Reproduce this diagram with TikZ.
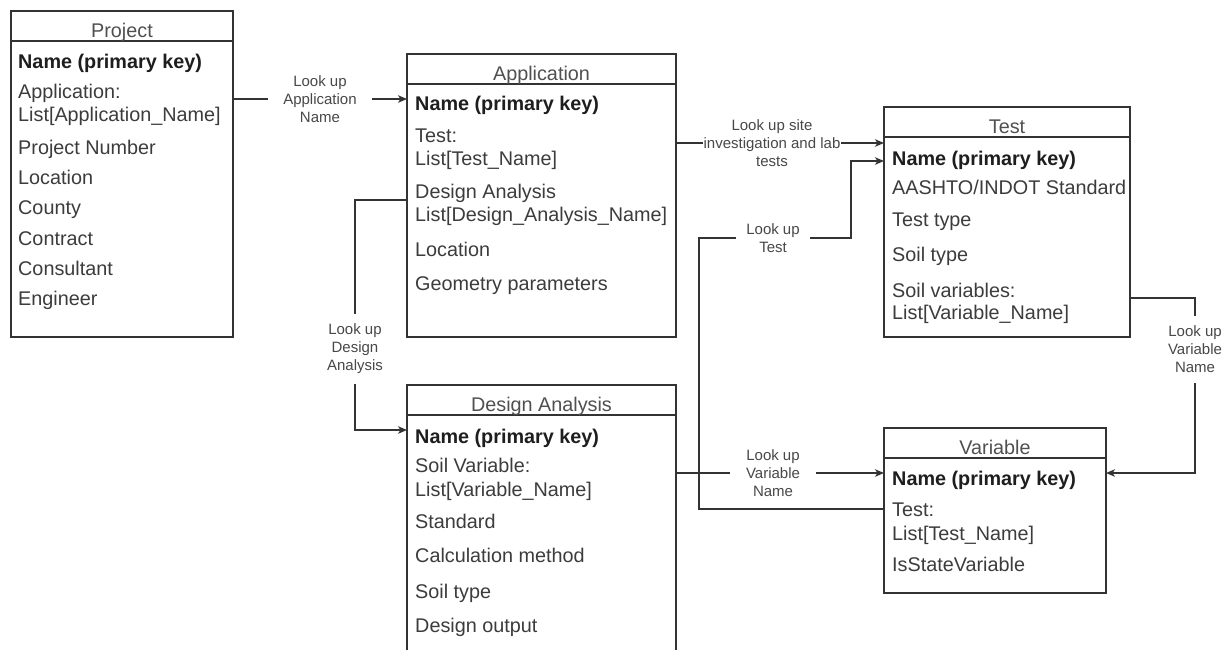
\documentclass[tikz,border=0pt]{standalone}
\usepackage{fontspec}
\setmainfont{Liberation Sans}
\usetikzlibrary{arrows.meta}
\definecolor{ink}{HTML}{333333}
\definecolor{txt}{HTML}{3C3C3C}
\definecolor{hdrtxt}{HTML}{505050}
\definecolor{boldtxt}{HTML}{1E1E1E}
\definecolor{lbl}{HTML}{484848}

\begin{document}
\begin{tikzpicture}[x=1pt,y=-1pt,
  box/.style={draw=ink, line width=1.4pt, inner sep=0pt, outer sep=0pt, anchor=north west},
  hdr/.style={text=hdrtxt, font=\fontsize{19.8}{23}\selectfont, inner sep=0pt, anchor=base},
  row/.style={text=txt, font=\fontsize{19.8}{23}\selectfont, inner sep=0pt, anchor=base west},
  key/.style={row, text=boldtxt, font=\fontsize{19.8}{23}\selectfont\bfseries},
  lookup/.style={fill=white, text=lbl, font=\fontsize{15}{18}\selectfont, align=center, inner ysep=2pt},
  link/.style={draw=ink, line width=1.3pt},
  arr/.style={link, -{Stealth[length=9pt,width=7.5pt,inset=2.5pt]}},
]
\useasboundingbox (0,0) rectangle (1222,649);
\clip (0,0) rectangle (1222,649);
\fill[white] (0,0) rectangle (1222,649);

% ---------- Project ----------
\node[box, minimum width=222pt, minimum height=30pt]  (projH) at (11,11) {};
\node[box, minimum width=222pt, minimum height=296pt] (proj)  at (11,41) {};
\node[hdr] (projT) at (122,37) {Project};
\node[key] (p1) at (18,68)  {Name (primary key)};
\node[row] (p2) at (18,98)  {Application:};
\node[row] (p3) at (18,121) {List[Application\_Name]};
\node[row] (p4) at (18,154) {Project Number};
\node[row] (p5) at (18,184) {Location};
\node[row] (p6) at (18,214) {County};
\node[row] (p7) at (18,245) {Contract};
\node[row] (p8) at (18,275) {Consultant};
\node[row] (p9) at (18,305) {Engineer};

% ---------- Application ----------
\node[box, minimum width=269pt, minimum height=30pt]  (appH) at (407,54) {};
\node[box, minimum width=269pt, minimum height=253pt] (app)  at (407,84) {};
\node[hdr] (appT) at (541.5,80) {Application};
\node[key] (a1) at (415,110) {Name (primary key)};
\node[row] (a2) at (415,142) {Test:};
\node[row] (a3) at (415,165) {List[Test\_Name]};
\node[row] (a4) at (415,198) {Design Analysis};
\node[row] (a5) at (415,221) {List[Design\_Analysis\_Name]};
\node[row] (a6) at (415,256) {Location};
\node[row] (a7) at (415,290) {Geometry parameters};

% ---------- Design Analysis ----------
\node[box, minimum width=269pt, minimum height=30pt]  (daH) at (407,385) {};
\node[box, minimum width=269pt, minimum height=300pt] (da)  at (407,415) {};
\node[hdr] (daT) at (541.5,411) {Design Analysis};
\node[key] (d1) at (415,443) {Name (primary key)};
\node[row] (d2) at (415,472) {Soil Variable:};
\node[row] (d3) at (415,496) {List[Variable\_Name]};
\node[row] (d4) at (415,528) {Standard};
\node[row] (d5) at (415,562) {Calculation method};
\node[row] (d6) at (415,598) {Soil type};
\node[row] (d7) at (415,632) {Design output};

% ---------- Test ----------
\node[box, minimum width=246pt, minimum height=30pt]  (testH) at (884,107) {};
\node[box, minimum width=246pt, minimum height=200pt] (test)  at (884,137) {};
\node[hdr] (testT) at (1007,133) {Test};
\node[key] (t1) at (892,165) {Name (primary key)};
\node[row] (t2) at (892,194) {AASHTO/INDOT Standard};
\node[row] (t3) at (892,226) {Test type};
\node[row] (t4) at (892,261) {Soil type};
\node[row] (t5) at (892,297) {Soil variables:};
\node[row] (t6) at (892,319) {List[Variable\_Name]};

% ---------- Variable ----------
\node[box, minimum width=222pt, minimum height=30pt]  (varH) at (884,428) {};
\node[box, minimum width=222pt, minimum height=135pt] (var)  at (884,458) {};
\node[hdr] (varT) at (995,454) {Variable};
\node[key] (v1) at (892,485) {Name (primary key)};
\node[row] (v2) at (892,516) {Test:};
\node[row] (v3) at (892,540) {List[Test\_Name]};
\node[row] (v4) at (892,571) {IsStateVariable};

% ---------- connector tracks ----------
\coordinate (yApp)  at (0,99);
\coordinate (ySite) at (0,143);
\coordinate (daA)   at (355,200);
\coordinate (daB)   at (355,430);
\coordinate (yVar)  at (0,473);
\coordinate (tsA)   at (699,509);
\coordinate (tsB)   at (699,238);
\coordinate (tsC)   at (851,238);
\coordinate (tsD)   at (851,161);
\coordinate (vrA)   at (1195,298);
\coordinate (vrB)   at (1195,473);

\draw[arr] (proj.east |- yApp) -- (app.west |- yApp);
\draw[arr] (app.east |- ySite) -- (test.west |- ySite);
\draw[arr] (app.west |- daA) -- (daA) -- (daB) -- (da.west |- daB);
\draw[arr] (da.east |- yVar) -- (var.west |- yVar);
\draw[arr] (var.west |- tsA) -- (tsA) -- (tsB) -- (tsC) -- (tsD) -- (test.west |- tsD);
\draw[arr] (test.east |- vrA) -- (vrA) -- (vrB) -- (var.east |- vrB);

% ---------- connector labels ----------
\node[lookup, inner xsep=15pt] (lApp)  at (320,99)  {Look up\\Application\\Name};
\node[lookup, inner xsep=0.5pt] (lSite) at (772,143) {Look up site\\investigation and lab\\tests};
\node[lookup, inner xsep=3pt, inner ysep=10pt] (lDA) at (355,349) {Look up\\Design\\Analysis};
\node[lookup, inner xsep=16pt] (lVarL) at (773,473) {Look up\\Variable\\Name};
\node[lookup, inner xsep=10pt] (lTest) at (773,238) {Look up\\Test};
\node[lookup, inner xsep=3pt, inner ysep=10pt] (lVarR) at (1195,349) {Look up\\Variable\\Name};
\end{tikzpicture}
\end{document}
